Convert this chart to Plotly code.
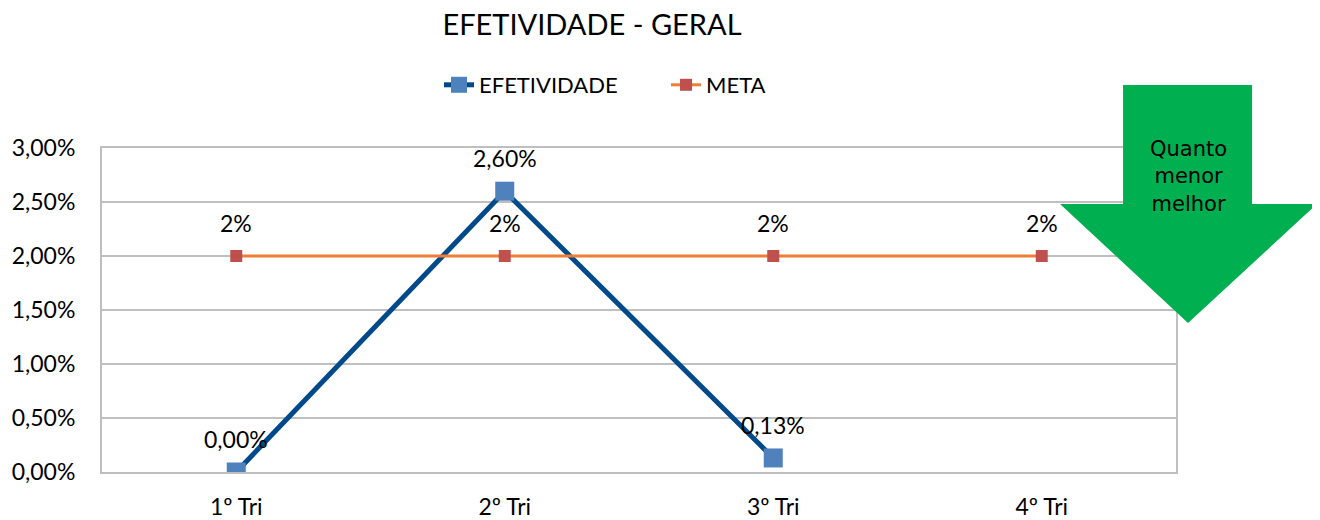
import plotly.graph_objects as go

trimestres = ["1º Tri", "2º Tri", "3º Tri", "4º Tri"]
efetividade = [0.0, 0.026, 0.0013]
meta = [0.02, 0.02, 0.02, 0.02]
y_ticks = [0, 0.005, 0.01, 0.015, 0.02, 0.025, 0.03]

fonte = "Lato"
OFF = 8  # margem do body da pagina

fig = go.Figure()

fig.add_trace(go.Scatter(
    x=trimestres[:len(efetividade)], y=efetividade, name="EFETIVIDADE",
    mode="lines+markers",
    line=dict(color="#004A8C", width=5),
    marker=dict(symbol="square", size=19, color="#4F81BD"),
))

fig.add_trace(go.Scatter(
    x=trimestres, y=meta, name="META",
    mode="lines+markers",
    line=dict(color="#F07D32", width=3),
    marker=dict(symbol="square", size=12, color="#C0504D"),
))

# rotulos de dados
for xv, yv in zip(trimestres, efetividade):
    fig.add_annotation(x=xv, y=yv, text=f"{yv:.2%}".replace(".", ","), showarrow=False,
                       yshift=33, yanchor="middle", font=dict(size=23, color="#000000"))
for xv, yv in zip(trimestres, meta):
    fig.add_annotation(x=xv, y=yv, text=f"{yv:.0%}", showarrow=False,
                       yshift=33, yanchor="middle", font=dict(size=23, color="#000000"))

# seta verde "quanto menor melhor" (coords em paper, area de plotagem 1074x324)
def px(x):
    return (x - 102) / 1074

def py(y):
    return (472 - y) / 324

pts = [(1123, 85), (1252, 85), (1252, 204), (1317, 204), (1188, 323), (1060, 204), (1123, 204)]
path = "M " + " L ".join(f"{px(a):.4f},{py(b):.4f}" for a, b in pts) + " Z"
fig.add_shape(type="path", path=path, xref="paper", yref="paper",
              fillcolor="#00B050", line=dict(width=0), layer="above")

fig.add_annotation(x=px(1188), y=py(176), xref="paper", yref="paper",
                   xanchor="center", yanchor="middle",
                   text="Quanto<br>menor<br>melhor", showarrow=False,
                   font=dict(family="DejaVu Sans", size=21, color="#000000"),
                   align="center")

fig.update_layout(
    width=1320, height=520,
    margin=dict(l=102 - OFF, r=152, t=148 - OFF, b=56, autoexpand=False),
    paper_bgcolor="white", plot_bgcolor="white",
    font=dict(family=fonte, size=23, color="#000000"),
    separators=",.",
    title=dict(text="EFETIVIDADE - GERAL", x=(592 - OFF) / 1320, xanchor="center",
               y=1 - (25 - OFF) / 520, yanchor="middle", xref="container", yref="container",
               font=dict(family=fonte, size=29, color="#000000")),
    showlegend=True,
    legend=dict(orientation="h", x=px(439), xanchor="left", y=py(85), yanchor="middle",
                font=dict(size=22), entrywidth=182, entrywidthmode="pixels"),
)

fig.update_xaxes(
    type="category", categoryorder="array", categoryarray=trimestres,
    range=[-0.5, 3.5], showgrid=False, showline=True, mirror=True,
    linecolor="#BFBFBF", linewidth=2, ticks="", tickfont=dict(size=23),
    ticklabelstandoff=13, automargin=False,
)
fig.update_yaxes(
    range=[0, 0.03], tickvals=y_ticks, tickformat=".2%",
    showgrid=True, gridcolor="#BFBFBF", gridwidth=1.5,
    showline=True, mirror=True, linecolor="#BFBFBF", linewidth=2,
    zeroline=False, ticks="", tickfont=dict(size=23),
    ticklabelstandoff=20, automargin=False,
)

fig.write_html("out.html")
